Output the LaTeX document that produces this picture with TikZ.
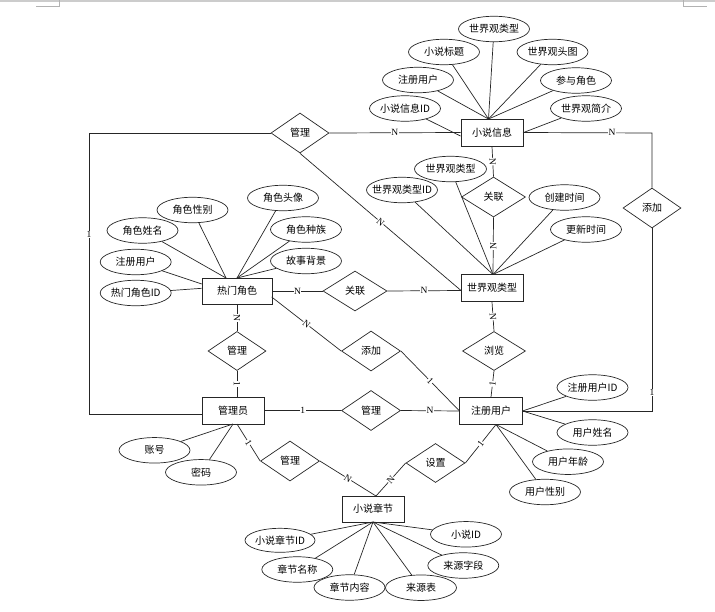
\documentclass[tikz,border=0pt]{standalone}
\usepackage{fontspec}
\setmainfont{Noto Sans CJK SC}
\newfontfamily\labfont{Liberation Serif}
\usetikzlibrary{shapes.geometric}
\newcommand\zt[1]{\makebox[0pt]{#1}}
\begin{document}
\begin{tikzpicture}[x=1pt,y=-1pt,
  every node/.style={font=\fontsize{10}{12}\selectfont},
  ent/.style={draw=black!85, line width=1pt, rectangle, fill=white, inner sep=0pt, minimum width=62pt, minimum height=27pt},
  rel/.style={draw=black!85, line width=0.7pt, diamond, fill=white, inner sep=0pt, minimum width=59pt, minimum height=40pt},
  attr/.style={draw=black!85, line width=0.7pt, ellipse, fill=white, inner sep=0pt, minimum width=71pt, minimum height=25.5pt},
  lab/.style={fill=white, inner sep=0.4pt, font=\labfont\fontsize{9.5}{10}\selectfont},
  conn/.style={draw=black!85, line width=0.7pt},
]
\useasboundingbox (0,0) rectangle (715,611);
% page marks
\draw[gray!40, line width=2pt] (0,1) -- (715,1);
\draw[gray!60, line width=0.8pt] (36,6.3) -- (59.3,6.3) -- (59.3,0);
\draw[gray!60, line width=0.8pt] (683.3,0) -- (683.3,6.3) -- (706.7,6.3);

% entities
\node[ent] (info) at (492,132.5) {小说信息};
\node[ent, minimum width=70pt, minimum height=26pt] (role) at (237,291) {热门角色};
\node[ent] (wtype) at (492,288) {世界观类型};
\node[ent] (admin) at (233,410.5) {管理员};
\node[ent, minimum width=63pt] (user) at (491,411) {注册用户};
\node[ent, minimum height=26pt] (chap) at (373,509) {小说章节};

% relationships
\node[rel, minimum width=58pt] (r1) at (300,133) {管理};
\node[rel, minimum width=64pt] (r2) at (493.5,197) {关联};
\node[rel, minimum width=64pt] (r3) at (355,291) {关联};
\node[rel, minimum width=58pt] (r4) at (652,208) {添加};
\node[rel, minimum width=58pt, minimum height=39pt] (r5) at (237,351) {管理};
\node[rel] (r6) at (371,351) {添加};
\node[rel, minimum width=63pt, minimum height=39pt] (r7) at (494,351) {浏览};
\node[rel] (r8) at (371,410.5) {管理};
\node[rel] (r9) at (290,461) {管理};
\node[rel, minimum height=39pt] (r10) at (435.5,463) {设置};

% attachment points
\coordinate (infoT) at (488.5,119);
\coordinate (infoL) at (460.5,136);
\coordinate (infoR) at (523,132.7);
\coordinate (roleTL) at (226,278);
\coordinate (roleT) at (237,278);
\coordinate (roleL1) at (201.7,284);
\coordinate (roleL2) at (201.7,288.3);
\coordinate (roleBR) at (271.7,297);
\coordinate (wtypeT) at (493,274.5);
\coordinate (wtypeL) at (461,290.5);
\coordinate (userR) at (522.5,411);
\coordinate (userB) at (496,424.5);
\coordinate (userL) at (459.5,411);
\coordinate (adminB) at (233,424);
\coordinate (adminB2) at (237,424);
\coordinate (adminT) at (237,397);
\coordinate (adminL) at (201.7,414);
\coordinate (chapB) at (373,522);
\coordinate (chapT) at (376,496);
\coordinate (k1) at (89,133);
\coordinate (k2) at (89,414);
\coordinate (k3) at (652,133);
\coordinate (k4) at (652,411);

% attributes of 小说信息
\node[attr] (i1) at (494,29) {\zt{世界观类型}};
\node[attr] (i2) at (444,52) {\zt{小说标题}};
\node[attr] (i3) at (552.5,52) {\zt{世界观头图}};
\node[attr] (i4) at (418,80) {\zt{注册用户}};
\node[attr] (i5) at (576,80.5) {\zt{参与角色}};
\node[attr] (i6) at (405,108.5) {\zt{小说信息ID}};
\node[attr] (i7) at (586,108.5) {\zt{世界观简介}};
\foreach \a in {i1,i2,i3,i4,i5} \draw[conn] (\a) -- (infoT);
\draw[conn] (i6) -- (infoL);
\draw[conn] (i7) -- (infoR);

% attributes of 热门角色
\node[attr] (h1) at (192.5,210) {\zt{角色性别}};
\node[attr] (h2) at (283,198) {\zt{角色头像}};
\node[attr] (h3) at (142.5,230.5) {\zt{角色姓名}};
\node[attr] (h4) at (306,229.5) {\zt{角色种族}};
\node[attr] (h5) at (135.7,262) {\zt{注册用户}};
\node[attr] (h6) at (306,261) {\zt{故事背景}};
\node[attr] (h7) at (135.7,293) {\zt{热门角色ID}};
\draw[conn] (h1) -- (roleTL);
\draw[conn] (h3) -- (roleTL);
\foreach \a in {h2,h4,h6} \draw[conn] (\a) -- (roleT);
\draw[conn] (h5) -- (roleL1);
\draw[conn] (h7) -- (roleL2);

% attributes of 世界观类型
\node[attr, minimum width=72pt] (w1) at (450.5,169) {\zt{世界观类型}};
\node[attr] (w2) at (402,190) {\zt{世界观类型ID}};
\node[attr] (w3) at (564.5,197.5) {\zt{创建时间}};
\node[attr] (w4) at (586,229.5) {\zt{更新时间}};
\foreach \a in {w1,w2,w3,w4} \draw[conn] (\a) -- (wtypeT);

% attributes of 注册用户
\node[attr] (u1) at (592.5,387.5) {\zt{注册用户ID}};
\node[attr] (u2) at (592.5,432.5) {\zt{用户姓名}};
\node[attr] (u3) at (568,461.7) {\zt{用户年龄}};
\node[attr] (u4) at (545,492) {\zt{用户性别}};
\draw[conn] (u1) -- (userR);
\draw[conn] (u2) -- (userR);
\draw[conn] (u3) -- (userB);
\draw[conn] (u4) -- (userB);

% attributes of 管理员
\node[attr] (m1) at (154.5,450.3) {\zt{账号}};
\node[attr] (m2) at (201,472.3) {\zt{密码}};
\draw[conn] (m1) -- (adminB);
\draw[conn] (m2) -- (adminB);

% attributes of 小说章节
\node[attr, minimum width=70pt, minimum height=24pt] (c1) at (280,540.3) {\zt{小说章节ID}};
\node[attr] (c2) at (297.3,569.5) {\zt{章节名称}};
\node[attr] (c3) at (349.5,587.5) {\zt{章节内容}};
\node[attr] (c4) at (421,587.7) {\zt{来源表}};
\node[attr] (c5) at (463.3,565.5) {\zt{来源字段}};
\node[attr] (c6) at (466,534.3) {\zt{小说ID}};
\foreach \a in {c1,c2,c3,c4,c5,c6} \draw[conn] (\a) -- (chapB);

% relationship connectors
\draw[conn] (r1.west) -- (k1) -- node[lab, pos=0.36] {1} (k2) -- (adminL);
\draw[conn] (r1.east) -- node[lab] {N} (info.west);
\draw[conn] (r1.south) -- node[lab, sloped] {N} (wtypeL);
\draw[conn] (info.east) -- node[lab, pos=0.69] {N} (k3) -- (r4.north);
\draw[conn] (r4.south) -- node[lab, pos=0.9] {1} (k4) -- (user.east);
\draw[conn] (info.south) -- node[lab, sloped] {N} (r2.north);
\draw[conn] (r2.south) -- node[lab, sloped] {N} (wtypeT);
\draw[conn] (role.east) -- node[lab] {N} (r3.west);
\draw[conn] (r3.east) -- node[lab] {N} (wtypeL);
\draw[conn] (role.south) -- node[lab, sloped] {N} (r5.north);
\draw[conn] (r5.south) -- node[lab, sloped] {1} (adminT);
\draw[conn] (roleBR) -- node[lab, sloped] {N} (r6.west);
\draw[conn] (r6.east) -- node[lab, sloped] {1} (userL);
\draw[conn] (wtype.south) -- node[lab, sloped] {N} (r7.north);
\draw[conn] (r7.south) -- node[lab, sloped] {1} (user.north);
\draw[conn] (admin.east) -- node[lab] {1} (r8.west);
\draw[conn] (r8.east) -- node[lab] {N} (userL);
\draw[conn] (adminB2) -- node[lab, sloped] {1} (r9.west);
\draw[conn] (r9.east) -- node[lab, sloped] {N} (chapT);
\draw[conn] (chapT) -- node[lab, sloped] {N} (r10.west);
\draw[conn] (r10.east) -- node[lab, sloped] {1} (userB);
\end{tikzpicture}
\end{document}
